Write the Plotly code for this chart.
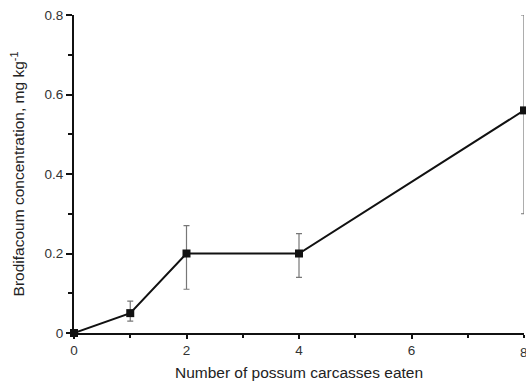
import plotly.graph_objects as go

carcasses = [0, 1, 2, 4, 8]
concentration = [0.0, 0.05, 0.2, 0.2, 0.56]
err_upper = [0.0, 0.03, 0.07, 0.05, 0.24]
err_lower = [0.0, 0.02, 0.09, 0.06, 0.26]

x_tickvals = [0, 2, 4, 6]
x_edge_label = 8
y_tickvals = [0, 0.2, 0.4, 0.6, 0.8]
y_ticktext = ["0", "0.2", "0.4", "0.6", "0.8"]

fig = go.Figure()
fig.add_trace(go.Scatter(
    x=carcasses, y=concentration, mode="lines+markers",
    line=dict(color="#111111", width=2),
    marker=dict(symbol="square", size=8, color="#111111"),
    error_y=dict(type="data", symmetric=False, array=err_upper, arrayminus=err_lower,
                 color="#777777", thickness=1.2, width=3),
    cliponaxis=False, showlegend=False,
))

tick_font = dict(family="Liberation Sans, Arial, sans-serif", size=13.5, color="#333333")
title_font = dict(family="Liberation Sans, Arial, sans-serif", size=15.5, color="#222222")

fig.add_annotation(x=x_edge_label, xref="x", y=0, yref="paper", text=str(x_edge_label),
                   showarrow=False, yanchor="top", yshift=-10, font=tick_font)

fig.update_layout(
    width=526, height=385,
    margin=dict(l=74, r=2, t=15, b=52),
    paper_bgcolor="white", plot_bgcolor="white",
    font=tick_font,
    xaxis=dict(
        range=[0, 8], tickvals=x_tickvals, ticks="outside", ticklen=4, tickwidth=1.5,
        tickcolor="#111111", showline=True, linecolor="#111111", linewidth=2,
        showgrid=False, zeroline=False, tickfont=tick_font,
        minor=dict(dtick=1, tick0=0, ticks="outside", ticklen=3, tickcolor="#111111", showgrid=False),
        title=dict(text="Number of possum carcasses eaten", standoff=10, font=title_font),
    ),
    yaxis=dict(
        range=[0, 0.8], tickvals=y_tickvals, ticktext=y_ticktext, ticks="outside", ticklen=6,
        tickwidth=1.5, tickcolor="#111111", showline=True, linecolor="#111111", linewidth=2,
        showgrid=False, zeroline=False, tickfont=tick_font,
        minor=dict(dtick=0.1, tick0=0, ticks="outside", ticklen=4, tickcolor="#111111", showgrid=False),
        title=dict(text="Brodifacoum concentration, mg kg<sup>-1</sup>", standoff=16, font=title_font),
    ),
)

fig.write_html("out.html", config={"displayModeBar": False},
               post_script="document.body.style.margin='0';document.body.style.overflow='hidden';")
